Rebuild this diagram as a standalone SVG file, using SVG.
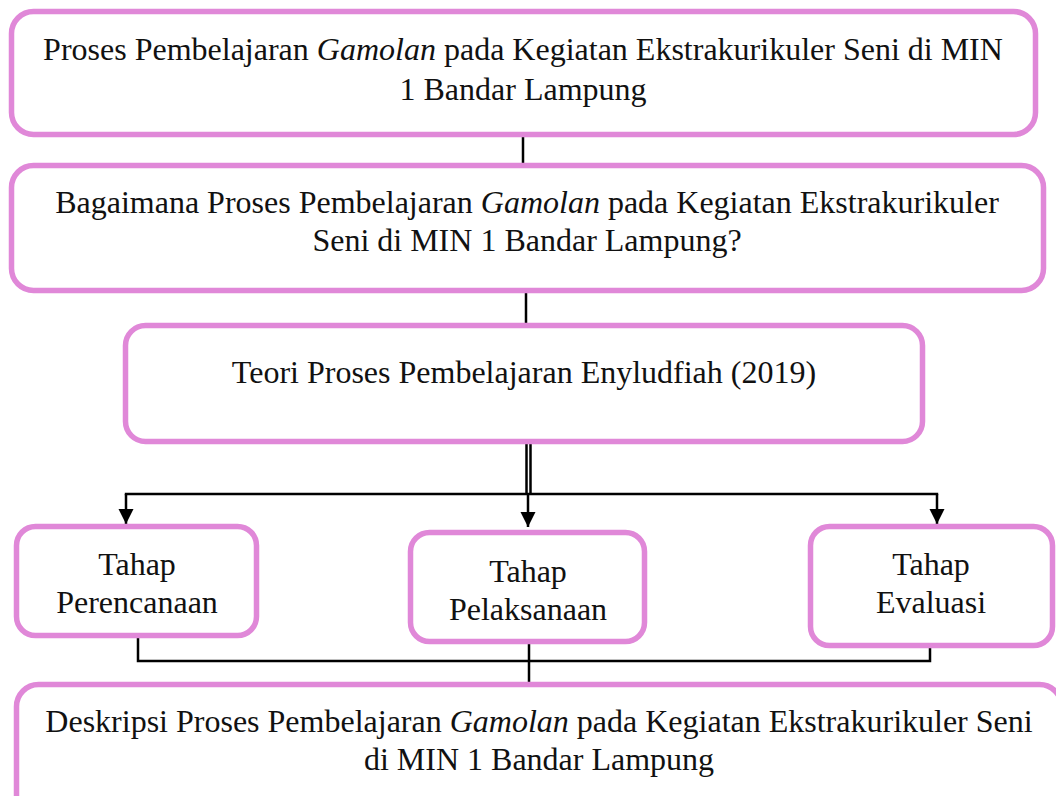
<svg xmlns="http://www.w3.org/2000/svg" width="1056" height="796" viewBox="0 0 1056 796">
<style>
.box{fill:#fff;stroke:#E088D8;stroke-width:5.5}
.t{font-family:"Liberation Serif","Times New Roman",serif;font-size:32px;fill:#111;text-anchor:middle}
.i{font-style:italic}
.c{fill:none;stroke:#000;stroke-width:2.5}
</style>
<defs>
<marker id="ah" markerUnits="userSpaceOnUse" markerWidth="16" markerHeight="16" refX="15" refY="7.5" orient="auto">
<path d="M0,0 L15,7.5 L0,15 Z" fill="#000"/>
</marker>
</defs>
<rect width="1056" height="796" fill="#fff"/>
<g id="connectors">
<line class="c" x1="523" y1="137" x2="523" y2="163"/>
<line class="c" x1="526" y1="293" x2="526" y2="323"/>
<line class="c" x1="526.5" y1="444" x2="526.5" y2="494"/>
<line class="c" x1="530.5" y1="444" x2="530.5" y2="494"/>
<line class="c" x1="124.8" y1="494" x2="938.2" y2="494"/>
<line class="c" x1="126" y1="494" x2="126" y2="524" marker-end="url(#ah)"/>
<line class="c" x1="528" y1="494" x2="528" y2="527" marker-end="url(#ah)"/>
<line class="c" x1="937" y1="494" x2="937" y2="524" marker-end="url(#ah)"/>
<path class="c" d="M138 638 V661 H930 V647"/>
<line class="c" x1="529" y1="644" x2="529" y2="683"/>
</g>
<g id="n1">
<rect class="box" x="11.5" y="11.5" width="1024" height="123" rx="22"/>
<text class="t" x="523" y="60">Proses Pembelajaran <tspan class="i">Gamolan</tspan> pada Kegiatan Ekstrakurikuler Seni di MIN</text>
<text class="t" x="523" y="100">1 Bandar Lampung</text>
</g>
<g id="n2">
<rect class="box" x="11.5" y="165.5" width="1032" height="125" rx="22"/>
<text class="t" x="527" y="213">Bagaimana Proses Pembelajaran <tspan class="i">Gamolan</tspan> pada Kegiatan Ekstrakurikuler</text>
<text class="t" x="527" y="251">Seni di MIN 1 Bandar Lampung?</text>
</g>
<g id="n3">
<rect class="box" x="125.5" y="325.5" width="797" height="116" rx="20"/>
<text class="t" x="524" y="383">Teori Proses Pembelajaran Enyludfiah (2019)</text>
</g>
<g id="n4">
<rect class="box" x="16.5" y="526.5" width="240" height="109" rx="19"/>
<text class="t" x="137" y="575">Tahap</text>
<text class="t" x="137" y="613">Perencanaan</text>
</g>
<g id="n5">
<rect class="box" x="410.5" y="532.5" width="234" height="109" rx="19"/>
<text class="t" x="528" y="582">Tahap</text>
<text class="t" x="528" y="620">Pelaksanaan</text>
</g>
<g id="n6">
<rect class="box" x="810.5" y="526.5" width="242" height="119" rx="19"/>
<text class="t" x="931" y="575">Tahap</text>
<text class="t" x="931" y="613">Evaluasi</text>
</g>
<g id="n7">
<rect class="box" x="16.5" y="684.5" width="1045" height="140" rx="22"/>
<text class="t" x="539" y="732">Deskripsi Proses Pembelajaran <tspan class="i">Gamolan</tspan> pada Kegiatan Ekstrakurikuler Seni</text>
<text class="t" x="539" y="770">di MIN 1 Bandar Lampung</text>
</g>
</svg>
